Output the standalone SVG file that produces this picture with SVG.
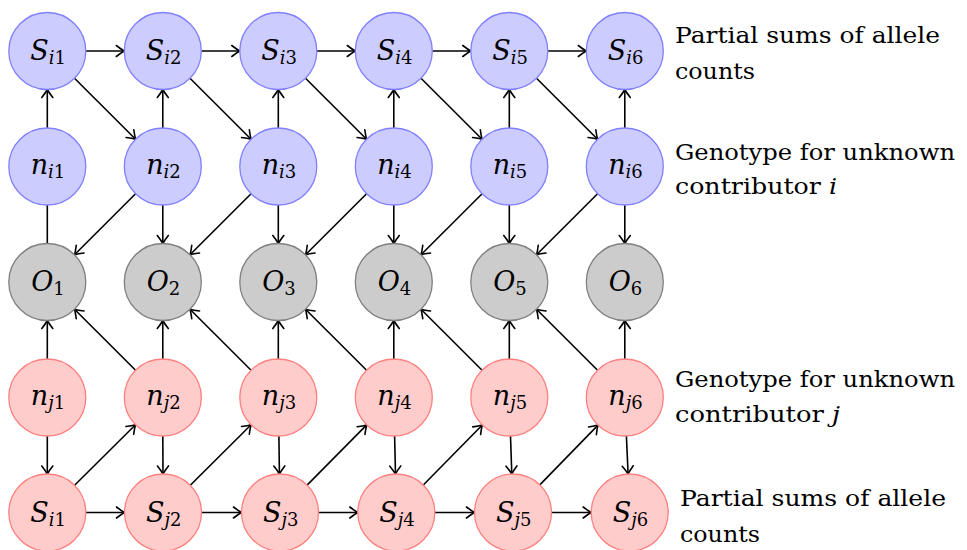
<svg xmlns="http://www.w3.org/2000/svg" width="967" height="550" viewBox="0 0 967 550">
<style>
.bi{fill:#ccccff;stroke:#8080ff;stroke-width:1.3}
.rj{fill:#ffcccc;stroke:#ff8080;stroke-width:1.3}
.go{fill:#cccccc;stroke:#808080;stroke-width:1.3}
.lab{font-style:italic;text-anchor:middle}
.up{font-style:normal}
#edges line{stroke:#000;stroke-width:1.6;fill:none}
#edges line.a{marker-end:url(#arr)}
</style>
<defs>
<marker id="arr" markerUnits="userSpaceOnUse" markerWidth="14" markerHeight="14" viewBox="-10 -7 12 14" refX="0" refY="0" orient="auto" overflow="visible">
<path d="M -8 -5.5 Q -3 -1.6 0 0 Q -3 1.6 -8 5.5" fill="none" stroke="#000" stroke-width="1.6" stroke-linecap="round"/>
</marker>
</defs>
<g id="edges">
<line class="a" x1="85.8" y1="51" x2="124.3" y2="51"/>
<line class="a" x1="201.3" y1="51" x2="239.8" y2="51"/>
<line class="a" x1="316.8" y1="51" x2="355.3" y2="51"/>
<line class="a" x1="432.3" y1="51" x2="470.8" y2="51"/>
<line class="a" x1="547.8" y1="51" x2="586.3" y2="51"/>
<line class="a" x1="47.3" y1="128" x2="47.3" y2="89.5"/>
<line class="a" x1="162.8" y1="128" x2="162.8" y2="89.5"/>
<line class="a" x1="278.3" y1="128" x2="278.3" y2="89.5"/>
<line class="a" x1="393.8" y1="128" x2="393.8" y2="89.5"/>
<line class="a" x1="509.3" y1="128" x2="509.3" y2="89.5"/>
<line class="a" x1="624.8" y1="128" x2="624.8" y2="89.5"/>
<line class="a" x1="74.5" y1="78.2" x2="135.6" y2="139.3"/>
<line class="a" x1="190" y1="78.2" x2="251.1" y2="139.3"/>
<line class="a" x1="305.5" y1="78.2" x2="366.6" y2="139.3"/>
<line class="a" x1="421" y1="78.2" x2="482.1" y2="139.3"/>
<line class="a" x1="536.5" y1="78.2" x2="597.6" y2="139.3"/>
<line x1="47.3" y1="205" x2="47.3" y2="243.5"/>
<line class="a" x1="162.8" y1="205" x2="162.8" y2="243.5"/>
<line class="a" x1="278.3" y1="205" x2="278.3" y2="243.5"/>
<line class="a" x1="393.8" y1="205" x2="393.8" y2="243.5"/>
<line class="a" x1="509.3" y1="205" x2="509.3" y2="243.5"/>
<line class="a" x1="624.8" y1="205" x2="624.8" y2="243.5"/>
<line class="a" x1="135.6" y1="193.7" x2="74.5" y2="254.8"/>
<line class="a" x1="251.1" y1="193.7" x2="190" y2="254.8"/>
<line class="a" x1="366.6" y1="193.7" x2="305.5" y2="254.8"/>
<line class="a" x1="482.1" y1="193.7" x2="421" y2="254.8"/>
<line class="a" x1="597.6" y1="193.7" x2="536.5" y2="254.8"/>
<line class="a" x1="47.3" y1="359" x2="47.3" y2="320.5"/>
<line class="a" x1="162.8" y1="359" x2="162.8" y2="320.5"/>
<line class="a" x1="278.3" y1="359" x2="278.3" y2="320.5"/>
<line class="a" x1="393.8" y1="359" x2="393.8" y2="320.5"/>
<line class="a" x1="509.3" y1="359" x2="509.3" y2="320.5"/>
<line class="a" x1="624.8" y1="359" x2="624.8" y2="320.5"/>
<line class="a" x1="135.6" y1="370.3" x2="74.5" y2="309.2"/>
<line class="a" x1="251.1" y1="370.3" x2="190" y2="309.2"/>
<line class="a" x1="366.6" y1="370.3" x2="305.5" y2="309.2"/>
<line class="a" x1="482.1" y1="370.3" x2="421" y2="309.2"/>
<line class="a" x1="597.6" y1="370.3" x2="536.5" y2="309.2"/>
<line class="a" x1="47.3" y1="436" x2="47.3" y2="474"/>
<line class="a" x1="162.8" y1="436" x2="163" y2="474"/>
<line class="a" x1="278.9" y1="436" x2="279.4" y2="474"/>
<line class="a" x1="394.6" y1="436" x2="395.5" y2="474"/>
<line class="a" x1="510.5" y1="436" x2="511.8" y2="474"/>
<line class="a" x1="626.4" y1="436" x2="628.1" y2="474"/>
<line class="a" x1="74.6" y1="485.3" x2="135.5" y2="424.7"/>
<line class="a" x1="190.3" y1="485.3" x2="251.1" y2="424.7"/>
<line class="a" x1="307.1" y1="485.1" x2="366.7" y2="424.9"/>
<line class="a" x1="423.3" y1="485" x2="482.3" y2="425"/>
<line class="a" x1="539.8" y1="484.9" x2="598" y2="425.1"/>
<line class="a" x1="85.8" y1="512.5" x2="124.5" y2="512.5"/>
<line class="a" x1="201.5" y1="512.5" x2="241.5" y2="512.5"/>
<line class="a" x1="318.5" y1="512.5" x2="357.8" y2="512.5"/>
<line class="a" x1="434.8" y1="512.5" x2="474.5" y2="512.5"/>
<line class="a" x1="551.5" y1="512.5" x2="591.2" y2="512.5"/>
</g>

<g id="nodes" font-family="DejaVu Serif, serif" font-size="27" fill="#000">
<g id="S_i1"><circle class="bi" cx="47.3" cy="51" r="38.5"/><text class="lab" x="48" y="60">S<tspan font-size="18" dy="4">i<tspan class="up">1</tspan></tspan></text></g>
<g id="S_i2"><circle class="bi" cx="162.8" cy="51" r="38.5"/><text class="lab" x="163.5" y="60">S<tspan font-size="18" dy="4">i<tspan class="up">2</tspan></tspan></text></g>
<g id="S_i3"><circle class="bi" cx="278.3" cy="51" r="38.5"/><text class="lab" x="279" y="60">S<tspan font-size="18" dy="4">i<tspan class="up">3</tspan></tspan></text></g>
<g id="S_i4"><circle class="bi" cx="393.8" cy="51" r="38.5"/><text class="lab" x="394.5" y="60">S<tspan font-size="18" dy="4">i<tspan class="up">4</tspan></tspan></text></g>
<g id="S_i5"><circle class="bi" cx="509.3" cy="51" r="38.5"/><text class="lab" x="510" y="60">S<tspan font-size="18" dy="4">i<tspan class="up">5</tspan></tspan></text></g>
<g id="S_i6"><circle class="bi" cx="624.8" cy="51" r="38.5"/><text class="lab" x="625.5" y="60">S<tspan font-size="18" dy="4">i<tspan class="up">6</tspan></tspan></text></g>

<g id="n_i1"><circle class="bi" cx="47.3" cy="166.5" r="38.5"/><text class="lab" x="48" y="174">n<tspan font-size="18" dy="4">i<tspan class="up">1</tspan></tspan></text></g>
<g id="n_i2"><circle class="bi" cx="162.8" cy="166.5" r="38.5"/><text class="lab" x="163.5" y="174">n<tspan font-size="18" dy="4">i<tspan class="up">2</tspan></tspan></text></g>
<g id="n_i3"><circle class="bi" cx="278.3" cy="166.5" r="38.5"/><text class="lab" x="279" y="174">n<tspan font-size="18" dy="4">i<tspan class="up">3</tspan></tspan></text></g>
<g id="n_i4"><circle class="bi" cx="393.8" cy="166.5" r="38.5"/><text class="lab" x="394.5" y="174">n<tspan font-size="18" dy="4">i<tspan class="up">4</tspan></tspan></text></g>
<g id="n_i5"><circle class="bi" cx="509.3" cy="166.5" r="38.5"/><text class="lab" x="510" y="174">n<tspan font-size="18" dy="4">i<tspan class="up">5</tspan></tspan></text></g>
<g id="n_i6"><circle class="bi" cx="624.8" cy="166.5" r="38.5"/><text class="lab" x="625.5" y="174">n<tspan font-size="18" dy="4">i<tspan class="up">6</tspan></tspan></text></g>

<g id="O_1"><circle class="go" cx="47.3" cy="282" r="38.5"/><text class="lab" x="48" y="291">O<tspan class="up" font-size="18" dy="4">1</tspan></text></g>
<g id="O_2"><circle class="go" cx="162.8" cy="282" r="38.5"/><text class="lab" x="163.5" y="291">O<tspan class="up" font-size="18" dy="4">2</tspan></text></g>
<g id="O_3"><circle class="go" cx="278.3" cy="282" r="38.5"/><text class="lab" x="279" y="291">O<tspan class="up" font-size="18" dy="4">3</tspan></text></g>
<g id="O_4"><circle class="go" cx="393.8" cy="282" r="38.5"/><text class="lab" x="394.5" y="291">O<tspan class="up" font-size="18" dy="4">4</tspan></text></g>
<g id="O_5"><circle class="go" cx="509.3" cy="282" r="38.5"/><text class="lab" x="510" y="291">O<tspan class="up" font-size="18" dy="4">5</tspan></text></g>
<g id="O_6"><circle class="go" cx="624.8" cy="282" r="38.5"/><text class="lab" x="625.5" y="291">O<tspan class="up" font-size="18" dy="4">6</tspan></text></g>

<g id="n_j1"><circle class="rj" cx="47.3" cy="397.5" r="38.5"/><text class="lab" x="48" y="405">n<tspan font-size="18" dy="4">j<tspan class="up">1</tspan></tspan></text></g>
<g id="n_j2"><circle class="rj" cx="162.8" cy="397.5" r="38.5"/><text class="lab" x="163.5" y="405">n<tspan font-size="18" dy="4">j<tspan class="up">2</tspan></tspan></text></g>
<g id="n_j3"><circle class="rj" cx="278.3" cy="397.5" r="38.5"/><text class="lab" x="279" y="405">n<tspan font-size="18" dy="4">j<tspan class="up">3</tspan></tspan></text></g>
<g id="n_j4"><circle class="rj" cx="393.8" cy="397.5" r="38.5"/><text class="lab" x="394.5" y="405">n<tspan font-size="18" dy="4">j<tspan class="up">4</tspan></tspan></text></g>
<g id="n_j5"><circle class="rj" cx="509.3" cy="397.5" r="38.5"/><text class="lab" x="510" y="405">n<tspan font-size="18" dy="4">j<tspan class="up">5</tspan></tspan></text></g>
<g id="n_j6"><circle class="rj" cx="624.8" cy="397.5" r="38.5"/><text class="lab" x="625.5" y="405">n<tspan font-size="18" dy="4">j<tspan class="up">6</tspan></tspan></text></g>

<g id="S_j1"><circle class="rj" cx="47.3" cy="512.5" r="38.5"/><text class="lab" x="48" y="521.5">S<tspan font-size="18" dy="4">i<tspan class="up">1</tspan></tspan></text></g>
<g id="S_j2"><circle class="rj" cx="163" cy="512.5" r="38.5"/><text class="lab" x="163.7" y="521.5">S<tspan font-size="18" dy="4">j<tspan class="up">2</tspan></tspan></text></g>
<g id="S_j3"><circle class="rj" cx="280" cy="512.5" r="38.5"/><text class="lab" x="280.7" y="521.5">S<tspan font-size="18" dy="4">j<tspan class="up">3</tspan></tspan></text></g>
<g id="S_j4"><circle class="rj" cx="396.3" cy="512.5" r="38.5"/><text class="lab" x="397" y="521.5">S<tspan font-size="18" dy="4">j<tspan class="up">4</tspan></tspan></text></g>
<g id="S_j5"><circle class="rj" cx="513" cy="512.5" r="38.5"/><text class="lab" x="513.7" y="521.5">S<tspan font-size="18" dy="4">j<tspan class="up">5</tspan></tspan></text></g>
<g id="S_j6"><circle class="rj" cx="629.7" cy="512.5" r="38.5"/><text class="lab" x="630.4" y="521.5">S<tspan font-size="18" dy="4">j<tspan class="up">6</tspan></tspan></text></g>
</g>

<g id="labels" font-family="DejaVu Serif, serif" font-size="23" fill="#000">
<text x="675" y="43" textLength="265" lengthAdjust="spacingAndGlyphs">Partial sums of allele</text>
<text x="675" y="79" textLength="80" lengthAdjust="spacingAndGlyphs">counts</text>
<text x="675" y="160" textLength="280" lengthAdjust="spacingAndGlyphs">Genotype for unknown</text>
<text x="675" y="194" textLength="162" lengthAdjust="spacingAndGlyphs">contributor <tspan font-style="italic">i</tspan></text>
<text x="675" y="387" textLength="280" lengthAdjust="spacingAndGlyphs">Genotype for unknown</text>
<text x="675" y="422" textLength="165" lengthAdjust="spacingAndGlyphs">contributor <tspan font-style="italic">j</tspan></text>
<text x="680" y="506" textLength="266" lengthAdjust="spacingAndGlyphs">Partial sums of allele</text>
<text x="680" y="542" textLength="80" lengthAdjust="spacingAndGlyphs">counts</text>
</g>
</svg>
